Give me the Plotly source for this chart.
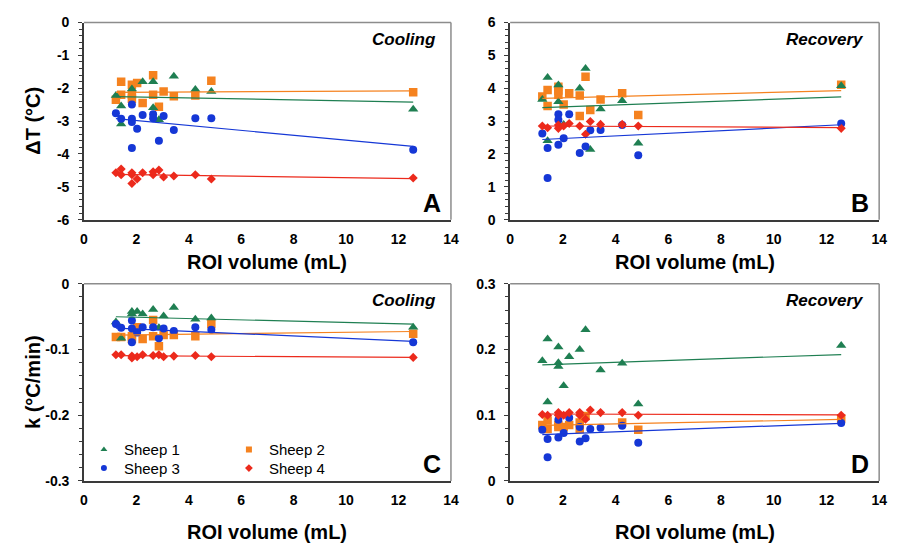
import numpy as np
import plotly.graph_objects as go

# ---------------- data: ROI volume (mL) vs. dT / k, per sheep ----------------
# Panel A: cooling, delta T (°C)
A_S1_X = [1.22, 1.42, 1.42, 1.83, 2.24, 2.64, 2.64, 2.86, 3.43, 4.25, 4.86, 12.56]
A_S1_Y = [-2.22, -2.54, -3.09, -2.02, -1.80, -1.80, -2.59, -2.96, -1.63, -2.04, -2.10, -2.64]
A_S2_X = [1.22, 1.42, 1.42, 1.83, 1.83, 1.83, 2.03, 2.24, 2.64, 2.64, 2.86, 3.04, 3.43, 4.25, 4.86, 12.56]
A_S2_Y = [-2.35, -1.80, -2.20, -1.89, -2.20, -2.32, -1.84, -2.45, -1.60, -2.20, -2.56, -2.10, -2.24, -2.22, -1.77, -2.12]
A_S3_X = [1.22, 1.42, 1.83, 1.83, 1.83, 1.83, 2.03, 2.24, 2.64, 2.64, 2.86, 3.04, 3.43, 4.25, 4.86, 12.56]
A_S3_Y = [-2.76, -2.93, -2.49, -2.93, -3.03, -3.82, -3.23, -2.81, -2.79, -2.91, -3.60, -2.84, -3.27, -2.91, -2.91, -3.87]
A_S4_X = [1.22, 1.42, 1.42, 1.83, 1.83, 1.83, 2.03, 2.24, 2.64, 2.64, 2.86, 3.04, 3.43, 4.25, 4.86, 12.56]
A_S4_Y = [-4.57, -4.46, -4.63, -4.57, -4.63, -4.90, -4.76, -4.57, -4.54, -4.63, -4.49, -4.70, -4.67, -4.63, -4.76, -4.73]

# Panel B: recovery, delta T (°C)
B_S1_X = [1.22, 1.42, 1.42, 1.83, 1.83, 2.03, 2.64, 2.86, 3.04, 3.43, 4.25, 4.86, 12.56]
B_S1_Y = [3.66, 4.33, 2.40, 4.10, 3.59, 2.90, 4.00, 4.60, 2.14, 3.37, 3.62, 2.33, 4.08]
B_S2_X = [1.22, 1.42, 1.42, 1.83, 1.83, 1.83, 2.03, 2.24, 2.64, 2.64, 2.86, 3.04, 3.43, 4.25, 4.86, 12.56]
B_S2_Y = [3.75, 3.95, 3.46, 4.05, 3.93, 3.80, 3.51, 3.85, 3.78, 3.16, 4.35, 3.34, 3.66, 3.85, 3.19, 4.11]
B_S3_X = [1.22, 1.42, 1.42, 1.83, 1.83, 1.83, 2.03, 2.24, 2.64, 2.86, 3.04, 3.43, 4.25, 4.86, 12.56]
B_S3_Y = [2.62, 2.18, 1.27, 3.21, 3.04, 2.28, 2.48, 3.21, 2.03, 2.23, 2.72, 2.73, 2.88, 1.96, 2.93]
B_S4_X = [1.22, 1.42, 1.83, 1.83, 2.03, 2.24, 2.64, 2.86, 3.04, 3.43, 4.25, 4.86, 12.56]
B_S4_Y = [2.85, 2.80, 2.88, 2.78, 2.85, 2.93, 2.85, 2.60, 2.99, 2.90, 2.90, 2.85, 2.78]

# Panel C: cooling, k (°C/min)
C_S1_X = [1.22, 1.42, 1.83, 1.83, 2.03, 2.24, 2.64, 2.86, 3.04, 3.43, 4.25, 4.86, 12.56]
C_S1_Y = [-0.058, -0.083, -0.042, -0.046, -0.042, -0.046, -0.039, -0.067, -0.049, -0.036, -0.054, -0.052, -0.066]
C_S2_X = [1.22, 1.42, 1.83, 1.83, 2.03, 2.24, 2.64, 2.64, 2.86, 3.04, 3.43, 4.25, 4.86, 12.56]
C_S2_Y = [-0.081, -0.081, -0.080, -0.084, -0.066, -0.084, -0.055, -0.080, -0.095, -0.078, -0.078, -0.080, -0.061, -0.076]
C_S3_X = [1.22, 1.42, 1.83, 1.83, 1.83, 2.03, 2.24, 2.64, 2.86, 3.04, 3.43, 4.25, 4.86, 12.56]
C_S3_Y = [-0.061, -0.067, -0.056, -0.068, -0.089, -0.074, -0.066, -0.066, -0.083, -0.068, -0.072, -0.066, -0.070, -0.089]
C_S4_X = [1.22, 1.42, 1.83, 1.83, 2.03, 2.24, 2.64, 2.86, 3.04, 3.43, 4.25, 4.86, 12.56]
C_S4_Y = [-0.108, -0.108, -0.110, -0.113, -0.111, -0.108, -0.109, -0.108, -0.111, -0.110, -0.109, -0.111, -0.112]

# Panel D: recovery, k (°C/min)
D_S1_X = [1.22, 1.42, 1.42, 1.83, 1.83, 1.83, 2.03, 2.24, 2.64, 2.86, 3.43, 4.25, 4.86, 12.56]
D_S1_Y = [0.183, 0.216, 0.120, 0.204, 0.180, 0.174, 0.145, 0.189, 0.200, 0.230, 0.169, 0.179, 0.117, 0.206]
D_S2_X = [1.22, 1.42, 1.42, 1.83, 1.83, 2.03, 2.24, 2.64, 2.64, 2.86, 4.25, 4.86, 12.56]
D_S2_Y = [0.085, 0.092, 0.079, 0.085, 0.082, 0.082, 0.085, 0.089, 0.079, 0.099, 0.089, 0.078, 0.095]
D_S3_X = [1.22, 1.42, 1.42, 1.83, 1.83, 2.03, 2.24, 2.64, 2.64, 2.86, 3.04, 3.43, 4.25, 4.86, 12.56]
D_S3_Y = [0.078, 0.064, 0.036, 0.093, 0.066, 0.073, 0.096, 0.082, 0.060, 0.065, 0.079, 0.081, 0.084, 0.058, 0.088]
D_S4_X = [1.22, 1.42, 1.83, 1.83, 2.03, 2.24, 2.64, 2.64, 2.86, 3.04, 3.43, 4.25, 4.86, 12.56]
D_S4_Y = [0.101, 0.100, 0.104, 0.100, 0.100, 0.104, 0.104, 0.100, 0.094, 0.108, 0.104, 0.104, 0.100, 0.100]

SHEEP_NAMES = ["Sheep 1", "Sheep 2", "Sheep 3", "Sheep 4"]
PANEL_LETTERS = ["A", "B", "C", "D"]
PANEL_TITLES = ["Cooling", "Recovery", "Cooling", "Recovery"]
X_TICKS = [0, 2, 4, 6, 8, 10, 12, 14]

# ---------------- styling ----------------
W, H = 899, 554
FONT = "Liberation Sans, Arial, sans-serif"
COLORS = ["#1f7f52", "#f5821f", "#1537d6", "#ec2a1c"]
SYMBOLS = ["triangle-up", "square", "circle", "diamond"]
SIZES = [9, 8.5, 8, 7]

panels = [
    (A_S1_X, A_S1_Y, A_S2_X, A_S2_Y, A_S3_X, A_S3_Y, A_S4_X, A_S4_Y),
    (B_S1_X, B_S1_Y, B_S2_X, B_S2_Y, B_S3_X, B_S3_Y, B_S4_X, B_S4_Y),
    (C_S1_X, C_S1_Y, C_S2_X, C_S2_Y, C_S3_X, C_S3_Y, C_S4_X, C_S4_Y),
    (D_S1_X, D_S1_Y, D_S2_X, D_S2_Y, D_S3_X, D_S3_Y, D_S4_X, D_S4_Y),
]

# plot-area boxes in pixels: (left, right, top, bottom)
boxes = [(81, 453, 15, 218), (513, 887, 15, 218), (81, 453, 284, 487), (513, 887, 284, 487)]
# distance of the x-axis title below each plot area
xtitle_offsets = [44, 44, 53, 53]


def px_x(p):
    return p / W


def px_y(p):
    return 1 - p / H


def fit_line(x, y):
    k, b = np.polyfit(np.asarray(x, float), np.asarray(y, float), 1)
    xs = np.array([min(x), max(x)])
    return xs, k * xs + b


fig = go.Figure()

draw_order = [1, 0, 2, 3]
for p, data in enumerate(panels):
    xa = "x" if p == 0 else f"x{p + 1}"
    ya = "y" if p == 0 else f"y{p + 1}"
    for s in draw_order:
        xs, ys = data[2 * s], data[2 * s + 1]
        fig.add_trace(go.Scatter(
            x=xs, y=ys, mode="markers", xaxis=xa, yaxis=ya, showlegend=False,
            marker=dict(symbol=SYMBOLS[s], size=SIZES[s], color=COLORS[s], line=dict(width=0)),
            hoverinfo="x+y", name=SHEEP_NAMES[s]))
    for s in range(4):
        xs, ys = data[2 * s], data[2 * s + 1]
        lx, ly = fit_line(xs, ys)
        fig.add_trace(go.Scatter(
            x=lx, y=ly, mode="lines", xaxis=xa, yaxis=ya, showlegend=False,
            line=dict(color=COLORS[s], width=1.2), hoverinfo="skip"))

# legend entries (two rows, two columns) shown inside panel C
for s in range(4):
    fig.add_trace(go.Scatter(
        x=[None], y=[None], mode="markers", name=SHEEP_NAMES[s], xaxis="x3", yaxis="y3",
        legend="legend" if s < 2 else "legend2",
        marker=dict(symbol=SYMBOLS[s], size=6, color=COLORS[s])))

layout = dict(
    width=W, height=H, margin=dict(l=0, r=0, t=0, b=0),
    paper_bgcolor="white", plot_bgcolor="white",
    font=dict(family=FONT, color="black"),
    showlegend=True,
)

yspecs = [
    dict(range=[-6, 0], dtick=1, minor=0.2),
    dict(range=[0, 6], dtick=1, minor=0.2),
    dict(range=[-0.3, 0], dtick=0.1, minor=0.02),
    dict(range=[0, 0.3], dtick=0.1, minor=0.02),
]

shapes = []
annotations = []
for p in range(4):
    l, r, t, b = boxes[p]
    xk = "xaxis" if p == 0 else f"xaxis{p + 1}"
    yk = "yaxis" if p == 0 else f"yaxis{p + 1}"
    yanchor = "y" if p == 0 else f"y{p + 1}"
    xanchor = "x" if p == 0 else f"x{p + 1}"
    layout[xk] = dict(
        domain=[px_x(l), px_x(r)], range=[0, 14], anchor=yanchor,
        tickvals=X_TICKS, ticktext=[f"<b>{v}</b>" for v in X_TICKS],
        showline=True, linecolor="#3a3a3a", linewidth=1.5, ticks="",
        ticklabelstandoff=6, showgrid=False, zeroline=False,
        tickfont=dict(size=14, family=FONT))
    ys = yspecs[p]
    lo, hi = ys["range"]
    n = int(round((hi - lo) / ys["dtick"]))
    yv = [round(lo + i * ys["dtick"], 3) for i in range(n + 1)]
    yt = [f"<b>{('0' if v == 0 else ('%g' % v))}</b>" for v in yv]
    layout[yk] = dict(
        domain=[px_y(b), px_y(t)], range=[lo, hi], anchor=xanchor,
        tickvals=yv, ticktext=yt,
        showline=True, linecolor="#3a3a3a", linewidth=1.5,
        ticks="outside", ticklen=4, tickcolor="#3a3a3a", tickwidth=1,
        minor=dict(dtick=ys["minor"], ticks="outside", ticklen=3, tickcolor="#3a3a3a", tickwidth=1),
        ticklabelstandoff=6, showgrid=False, zeroline=False,
        tickfont=dict(size=14, family=FONT))
    # top and right edges of the frame
    shapes.append(dict(type="line", xref="paper", yref="paper",
                       x0=px_x(l), x1=px_x(r), y0=px_y(t), y1=px_y(t),
                       line=dict(color="#8c8c8c", width=1.5)))
    shapes.append(dict(type="line", xref="paper", yref="paper",
                       x0=px_x(r), x1=px_x(r), y0=px_y(t), y1=px_y(b),
                       line=dict(color="#8c8c8c", width=1.5)))
    # panel title and letter
    annotations.append(dict(
        text=f"<b><i>{PANEL_TITLES[p]}</i></b>", xref="paper", yref="paper",
        x=px_x(r - 13), y=px_y(t + 17), xanchor="right", yanchor="middle",
        showarrow=False, font=dict(size=17, family=FONT)))
    annotations.append(dict(
        text=f"<b>{PANEL_LETTERS[p]}</b>", xref="paper", yref="paper",
        x=px_x(r - 8), y=px_y(b - 17), xanchor="right", yanchor="middle",
        showarrow=False, font=dict(size=25, family=FONT)))
    # x-axis title
    annotations.append(dict(
        text="<b>ROI volume (mL)</b>", xref="paper", yref="paper",
        x=px_x((l + r) / 2), y=px_y(b + xtitle_offsets[p]), xanchor="center", yanchor="middle",
        showarrow=False, font=dict(size=20, family=FONT)))

# y-axis titles
annotations.append(dict(
    text="<b>ΔT (°C)</b>", xref="paper", yref="paper", x=px_x(30), y=px_y(116.5),
    xanchor="center", yanchor="middle", textangle=-90, showarrow=False,
    font=dict(size=20, family=FONT)))
annotations.append(dict(
    text="<b>k (°C/min)</b>", xref="paper", yref="paper", x=px_x(30), y=px_y(385.5),
    xanchor="center", yanchor="middle", textangle=-90, showarrow=False,
    font=dict(size=20, family=FONT)))

legend_common = dict(
    orientation="h", xanchor="left", yanchor="middle",
    bgcolor="rgba(0,0,0,0)", borderwidth=0,
    font=dict(size=15, family=FONT), itemwidth=30,
    entrywidth=100, entrywidthmode="pixels", tracegroupgap=0)
layout["legend"] = dict(legend_common, x=px_x(81), y=px_y(455))
layout["legend2"] = dict(legend_common, x=px_x(81), y=px_y(474))
layout["shapes"] = shapes
layout["annotations"] = annotations

fig.update_layout(**layout)
fig.write_html("out.html")
